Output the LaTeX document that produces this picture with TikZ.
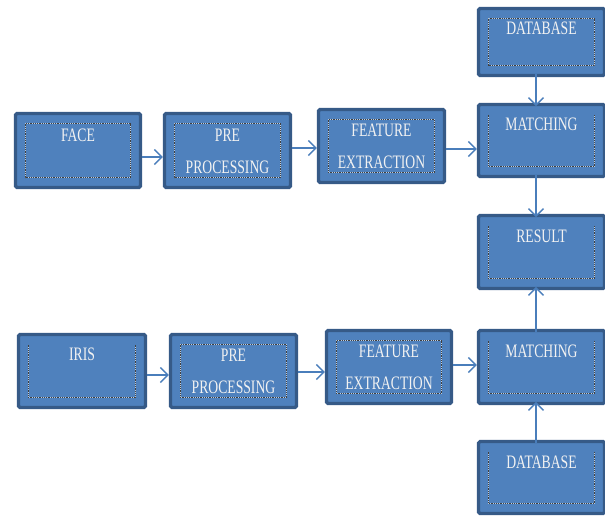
\documentclass[tikz,border=0pt]{standalone}
\usepackage{fontspec}
\setmainfont{Liberation Serif}[FakeStretch=0.72]
\usetikzlibrary{arrows.meta}
\definecolor{boxfill}{HTML}{4F81BD}
\definecolor{boxline}{HTML}{365A87}
\definecolor{arrcol}{HTML}{4A7EBB}
\definecolor{txtcol}{HTML}{F2F2F2}
\begin{document}
\begin{tikzpicture}[x=1pt,y=-1pt,
  box/.style={draw=boxline, fill=boxfill, line width=3.2pt, rounded corners=1.5pt, outer sep=0pt, inner sep=0pt},
  lbl/.style={text=txtcol, font=\fontsize{19}{21}\selectfont, anchor=base, inner sep=0pt},
  innerw/.style={draw=white!60!boxfill, line width=0.8pt},
  innerd/.style={draw=black!75, line width=0.8pt, densely dotted},
  arr/.style={draw=arrcol, line width=1.6pt, -{Straight Barb[length=7.5pt,width=15pt,line width=1.4pt]}}]
\useasboundingbox (0,0) rectangle (605,515);
% boxes
\node[box, minimum width=125pt, minimum height=74pt] (face) at (78,150.5) {};
\node[box, minimum width=126pt, minimum height=74pt] (pre1) at (227.5,150.5) {};
\node[box, minimum width=126pt, minimum height=73pt] (fe1) at (381.5,146) {};
\node[box, minimum width=126pt, minimum height=67pt] (db1) at (541.5,42) {};
\node[box, minimum width=126pt, minimum height=72pt] (m1) at (541.5,140.5) {};
\node[box, minimum width=126pt, minimum height=73pt] (res) at (541.5,252) {};
\node[box, minimum width=126pt, minimum height=73pt] (m2) at (541.5,367) {};
\node[box, minimum width=126pt, minimum height=72pt] (db2) at (541.5,477.5) {};
\node[box, minimum width=125pt, minimum height=73pt] (fe2) at (389,367) {};
\node[box, minimum width=127pt, minimum height=73pt] (iris) at (82,371) {};
\node[box, minimum width=126pt, minimum height=73pt] (pre2) at (233.5,371) {};
% inner dotted frames (full)
\foreach \n in {face,pre1,fe1,db1,fe2,pre2}{
  \foreach \s in {innerw,innerd}{
    \draw[\s] ([shift={(10,10)}]\n.north west) rectangle ([shift={(-10,-10)}]\n.south east);
  }
}
% inner dotted frames (three sides)
\foreach \n in {m1,res,m2,db2,iris}{
  \foreach \s in {innerw,innerd}{
    \draw[\s] ([shift={(10,10)}]\n.north west) -- ([shift={(10,-10)}]\n.south west)
      -- ([shift={(-10,-10)}]\n.south east) -- ([shift={(-10,10)}]\n.north east);
  }
}
% labels
\node[lbl] (tface) at (78,141) {FACE};
\node[lbl] (tpre1a) at (227.5,141) {PRE};
\node[lbl] (tpre1b) at (227.5,173) {PROCESSING};
\node[lbl] (tfe1a) at (381.5,136) {FEATURE};
\node[lbl] (tfe1b) at (381.5,168) {EXTRACTION};
\node[lbl] (tdb1) at (541.5,34) {DATABASE};
\node[lbl] (tm1) at (541.5,130) {MATCHING};
\node[lbl] (tres) at (541.5,242) {RESULT};
\node[lbl] (tm2) at (541.5,357) {MATCHING};
\node[lbl] (tdb2) at (541.5,468) {DATABASE};
\node[lbl] (tfe2a) at (389,357) {FEATURE};
\node[lbl] (tfe2b) at (389,389) {EXTRACTION};
\node[lbl] (tiris) at (82,360) {IRIS};
\node[lbl] (tpre2a) at (233.5,361) {PRE};
\node[lbl] (tpre2b) at (233.5,393) {PROCESSING};
% connector levels
\coordinate (ya) at (0,157);
\coordinate (yb) at (0,148);
\coordinate (yc) at (0,149);
\coordinate (yd) at (0,375);
\coordinate (ye) at (0,372);
\coordinate (yf) at (0,365);
\coordinate (xv) at (536,0);
% connectors
\draw[arr] ([xshift=1.6pt]face.east |- ya) -- ([xshift=-1.6pt]pre1.west |- ya);
\draw[arr] ([xshift=1.6pt]pre1.east |- yb) -- ([xshift=-1.6pt]fe1.west |- yb);
\draw[arr] ([xshift=1.6pt]fe1.east |- yc) -- ([xshift=-1.6pt]m1.west |- yc);
\draw[arr] ([yshift=1.6pt]xv |- db1.south) -- ([yshift=-1.6pt]xv |- m1.north);
\draw[arr] ([yshift=1.6pt]xv |- m1.south) -- ([yshift=-1.6pt]xv |- res.north);
\draw[arr] ([xshift=1.6pt]iris.east |- yd) -- ([xshift=-1.6pt]pre2.west |- yd);
\draw[arr] ([xshift=1.6pt]pre2.east |- ye) -- ([xshift=-1.6pt]fe2.west |- ye);
\draw[arr] ([xshift=1.6pt]fe2.east |- yf) -- ([xshift=-1.6pt]m2.west |- yf);
\draw[arr] ([yshift=-1.6pt]xv |- m2.north) -- ([yshift=1.6pt]xv |- res.south);
\draw[arr] ([yshift=-1.6pt]xv |- db2.north) -- ([yshift=1.6pt]xv |- m2.south);
\end{tikzpicture}
\end{document}
